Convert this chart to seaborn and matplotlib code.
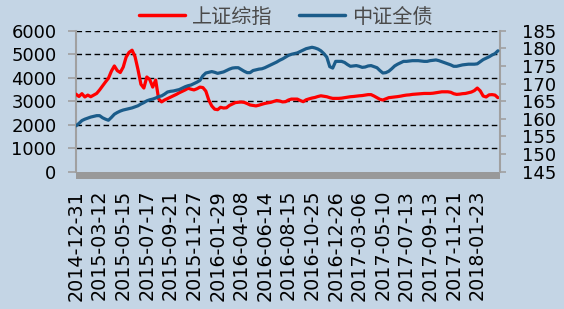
import numpy as np
import pandas as pd
import matplotlib
matplotlib.use('Agg')
import matplotlib.pyplot as plt
import seaborn as sns
from matplotlib.patches import Rectangle
from matplotlib.lines import Line2D

# ---- data -------------------------------------------------------------
tick_labels = ['2014-12-31', '2015-03-12', '2015-05-15', '2015-07-17', '2015-09-21',
               '2015-11-27', '2016-01-29', '2016-04-08', '2016-06-14', '2016-08-15',
               '2016-10-25', '2016-12-26', '2017-03-06', '2017-05-10', '2017-07-13',
               '2017-09-13', '2017-11-21', '2018-01-23']
samples_per_tick = 8

series_names = ['上证综指', '中证全债']

sse = [3300, 3200, 3320, 3180, 3260, 3190, 3260, 3330, 3480, 3650,
       3820, 3980, 4280, 4500, 4300, 4220, 4450, 4880, 5080, 5170,
       4900, 4350, 3720, 3560, 4030, 3920, 3600, 3900, 3100, 2970,
       3050, 3110, 3170, 3230, 3290, 3360, 3420, 3480, 3550, 3510,
       3480, 3530, 3600, 3580, 3430, 3050, 2800, 2660, 2640, 2740,
       2710, 2720, 2820, 2880, 2940, 2955, 2965, 2950, 2900, 2840,
       2820, 2800, 2830, 2870, 2905, 2930, 2950, 2990, 3030, 3010,
       2970, 2980, 3050, 3090, 3090, 3090, 3030, 2980, 3060, 3100,
       3135, 3160, 3200, 3230, 3210, 3190, 3150, 3120, 3120, 3120,
       3130, 3150, 3170, 3190, 3200, 3215, 3230, 3240, 3260, 3280,
       3280, 3220, 3150, 3080, 3050, 3100, 3150, 3165, 3180, 3195,
       3215, 3240, 3260, 3270, 3290, 3300, 3310, 3320, 3330, 3330,
       3330, 3340, 3360, 3380, 3400, 3400, 3400, 3380, 3320, 3290,
       3300, 3320, 3330, 3360, 3390, 3450, 3560, 3440, 3220, 3180,
       3270, 3280, 3260, 3150]

bond = [158.0, 158.7, 159.5, 159.9, 160.2, 160.5, 160.7, 160.9, 160.9, 160.3,
        159.9, 159.6, 160.4, 161.3, 161.8, 162.2, 162.5, 162.7, 162.9, 163.1,
        163.4, 163.7, 164.2, 164.6, 165.1, 165.4, 165.6, 165.9, 166.3, 166.5,
        167.0, 167.6, 167.8, 167.9, 168.1, 168.3, 168.7, 169.1, 169.4, 169.6,
        170.0, 170.4, 170.9, 172.2, 173.0, 173.2, 173.4, 173.2, 172.9, 173.1,
        173.3, 173.7, 174.1, 174.4, 174.5, 174.5, 174.0, 173.5, 173.1, 173.1,
        173.7, 173.9, 174.1, 174.2, 174.5, 174.9, 175.3, 175.7, 176.1, 176.6,
        177.0, 177.5, 178.0, 178.3, 178.5, 178.7, 179.1, 179.5, 179.9, 180.1,
        180.3, 180.1, 179.8, 179.3, 178.5, 177.5, 174.8, 174.4, 176.3, 176.3,
        176.3, 176.0, 175.4, 174.9, 175.0, 175.1, 174.9, 174.6, 174.7, 175.0,
        175.1, 174.8, 174.5, 173.7, 173.0, 173.1, 173.5, 174.2, 175.0, 175.5,
        175.9, 176.3, 176.3, 176.4, 176.5, 176.5, 176.5, 176.4, 176.3, 176.3,
        176.5, 176.6, 176.7, 176.5, 176.2, 175.9, 175.6, 175.3, 174.9, 174.9,
        175.1, 175.3, 175.4, 175.5, 175.5, 175.5, 175.6, 176.2, 176.8, 177.2,
        177.6, 178.1, 178.5, 179.3]

left_ticks = [0, 1000, 2000, 3000, 4000, 5000, 6000]
right_ticks = [145, 150, 155, 160, 165, 170, 175, 180, 185]

# ---- style ------------------------------------------------------------
sns.set_style('white')
plt.rcParams['font.family'] = ['DejaVu Sans', 'Noto Sans CJK SC']

BG = '#C4D5E5'
RED = '#FF0000'
BLUE = '#1B5C8A'
GRAY = '#A0A0A0'
BAND = '#999999'

df = pd.DataFrame({'idx': np.arange(len(sse)), 'sse': sse, 'bond': bond})

fig = plt.figure(figsize=(5.64, 3.09), dpi=100, facecolor=BG)
ax = fig.add_axes([76 / 564, 1 - 171.7 / 309, 424 / 564, 141 / 309])
ax.set_facecolor(BG)
ax2 = ax.twinx()

for v in left_ticks[1:]:
    ax.axhline(v, color='black', linestyle=(0, (4, 2.5)), linewidth=1.0, zorder=1)

sns.lineplot(data=df, x='idx', y='sse', ax=ax, color=RED, linewidth=2.3, zorder=3)
sns.lineplot(data=df, x='idx', y='bond', ax=ax2, color=BLUE, linewidth=2.3, zorder=3)

ax.set_xlim(0, 143.7)
ax.set_ylim(left_ticks[0], left_ticks[-1])
ax2.set_ylim(right_ticks[0], right_ticks[-1])
ax.set_yticks(left_ticks)
ax2.set_yticks(right_ticks)
ax.set_xticks(np.arange(len(tick_labels)) * samples_per_tick)
ax.set_xticklabels(tick_labels, rotation=90)

for a in (ax, ax2):
    a.set_xlabel('')
    a.set_ylabel('')
    a.grid(False)
    for s in ('top', 'bottom'):
        a.spines[s].set_visible(False)
ax.spines['right'].set_visible(False)
ax.spines['left'].set_color(GRAY)
ax.spines['left'].set_linewidth(1.5)
ax2.spines['left'].set_visible(False)
ax2.spines['right'].set_color(GRAY)
ax2.spines['right'].set_linewidth(1.5)

ax.tick_params(axis='y', length=6, width=1.2, color=GRAY, pad=8, labelsize=13, labelcolor='black')
ax2.tick_params(axis='y', length=4, width=1.2, color=GRAY, pad=12, labelsize=13, labelcolor='black')
ax.tick_params(axis='x', length=0, pad=13, labelsize=13.8, labelcolor='black')

# floor band under the plot
ax.add_patch(Rectangle((0, -0.053), 1, 0.053, transform=ax.transAxes,
                       facecolor=BAND, edgecolor='none', clip_on=False, zorder=4))

handles = [Line2D([], [], color=RED, linewidth=2.5),
           Line2D([], [], color=BLUE, linewidth=2.5)]
fig.legend(handles, series_names, loc='center', bbox_to_anchor=(286 / 564, 1 - 17 / 309),
           ncol=2, frameon=False, handlelength=2.3, handletextpad=0.35, columnspacing=1.3,
           labelcolor='#4A4A4A',
           prop={'family': ['Noto Sans CJK SC'], 'size': 14.5, 'weight': 'light'})

fig.savefig('out.png', dpi=100, facecolor=BG)
